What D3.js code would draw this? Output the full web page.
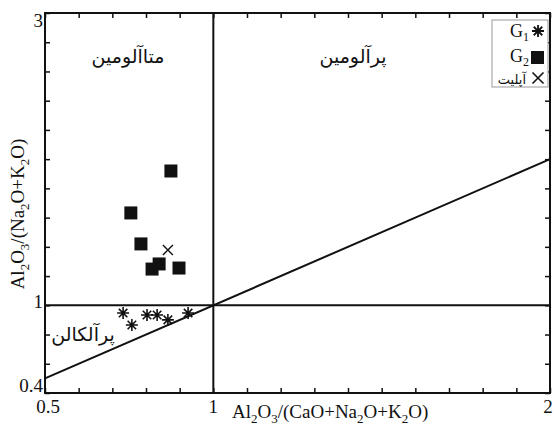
<!DOCTYPE html>
<html>
<head>
<meta charset="utf-8">
<script src="https://cdn.jsdelivr.net/npm/d3@7"></script>
<style>
  body { margin: 0; background: #fff; }
  svg text { fill: #111; }
  .serif { font-family: "Liberation Serif", "DejaVu Serif", serif; }
  .fa { font-family: "DejaVu Sans", sans-serif; }
</style>
</head>
<body>
<div id="chart"></div>
<script>
// G1 samples (asterisks)
const g1X = [0.732, 0.758, 0.803, 0.833, 0.865, 0.925];
const g1Y = [0.947, 0.865, 0.934, 0.934, 0.900, 0.947];
// G2 samples (squares)
const g2X = [0.874, 0.755, 0.785, 0.818, 0.839, 0.898];
const g2Y = [1.919, 1.632, 1.420, 1.248, 1.283, 1.255];
// aplite (cross)
const apX = [0.865];
const apY = [1.378];

const xTicks = [0.5, 1, 2];
const yTicks = [0.4, 1, 3];

const W = 554, H = 429;
const MARGIN = { top: 13, right: 4, bottom: 36, left: 45 };

const svg = d3.select('#chart').append('svg')
  .attr('width', W).attr('height', H);

const x = d3.scaleLinear().domain([0.5, 2]).range([MARGIN.left, W - MARGIN.right]);
const y = d3.scaleLinear().domain([0.4, 3]).range([H - MARGIN.bottom, MARGIN.top]);

const x0 = x.range()[0], x1 = x.range()[1];
const y0 = y.range()[0], y1 = y.range()[1];

// minor ticks, pointing inward
const xMinor = d3.range(0.5, 2.001, 0.1);
const yMinor = d3.range(0.4, 3.001, 0.2);

svg.append('g').attr('class', 'axis axis--bottom')
  .attr('transform', `translate(0,${y0})`)
  .call(d3.axisBottom(x).tickValues(xMinor).tickSize(-5).tickFormat(''))
  .call(ax => ax.select('.domain').remove());
svg.append('g').attr('class', 'axis axis--top')
  .attr('transform', `translate(0,${y1})`)
  .call(d3.axisTop(x).tickValues(xMinor).tickSize(-5).tickFormat(''))
  .call(ax => ax.select('.domain').remove());
svg.append('g').attr('class', 'axis axis--left')
  .attr('transform', `translate(${x0},0)`)
  .call(d3.axisLeft(y).tickValues(yMinor).tickSize(-5).tickFormat(''))
  .call(ax => ax.select('.domain').remove());
svg.append('g').attr('class', 'axis axis--right')
  .attr('transform', `translate(${x1},0)`)
  .call(d3.axisRight(y).tickValues(yMinor).tickSize(-5).tickFormat(''))
  .call(ax => ax.select('.domain').remove());
svg.selectAll('.axis line').attr('stroke', '#111').attr('stroke-width', 1.5);

// tick labels
svg.selectAll('.xlab').data(xTicks).join('text')
  .attr('class', 'serif')
  .attr('x', d => d === 2 ? x(d) - 2 : x(d) + (d === 0.5 ? 3 : 0))
  .attr('y', y0 + 20)
  .attr('text-anchor', 'middle')
  .style('font-size', '19px')
  .text(d => d);

svg.selectAll('.ylab').data(yTicks).join('text')
  .attr('class', 'serif')
  .attr('x', x0 - 2)
  .attr('y', d => y(d) + (d === 3 ? 14 : (d === 0.4 ? -1 : 3)))
  .attr('text-anchor', 'end')
  .style('font-size', '19px')
  .text(d => d);

// frame
svg.append('rect')
  .attr('x', x0).attr('y', y1)
  .attr('width', x1 - x0).attr('height', y0 - y1)
  .attr('fill', 'none').attr('stroke', '#111').attr('stroke-width', 2);

// boundary lines
const lineStyle = sel => sel.attr('stroke', '#111').attr('stroke-width', 2).attr('fill', 'none');
svg.append('line').attr('x1', x(1)).attr('x2', x(1)).attr('y1', y(0.4)).attr('y2', y(3)).call(lineStyle);
svg.append('line').attr('x1', x(0.5)).attr('x2', x(2)).attr('y1', y(1)).attr('y2', y(1)).call(lineStyle);
svg.append('line').attr('x1', x(0.5)).attr('x2', x(2)).attr('y1', y(0.5)).attr('y2', y(2)).call(lineStyle);

// field names
svg.append('text').attr('class', 'fa')
  .attr('x', 128).attr('y', 63).attr('text-anchor', 'middle')
  .style('font-size', '19px').text('متاآلومین');
svg.append('text').attr('class', 'fa')
  .attr('x', 353).attr('y', 63).attr('text-anchor', 'middle')
  .style('font-size', '19px').text('پرآلومین');
svg.append('text').attr('class', 'fa')
  .attr('x', 83).attr('y', 341).attr('text-anchor', 'middle')
  .style('font-size', '19px').text('پرآلکالن');

// symbols
const asterisk = (cx, cy, r) => {
  let p = '';
  for (let k = 0; k < 4; k++) {
    const a = k * Math.PI / 4;
    const dx = r * Math.sin(a), dy = r * Math.cos(a);
    p += `M${cx - dx},${cy - dy}L${cx + dx},${cy + dy}`;
  }
  return p;
};
const cross = (cx, cy, r) => `M${cx - r},${cy - r}L${cx + r},${cy + r}M${cx - r},${cy + r}L${cx + r},${cy - r}`;

const g1 = g1X.map((v, i) => ({ x: v, y: g1Y[i] }));
const g2 = g2X.map((v, i) => ({ x: v, y: g2Y[i] }));
const ap = apX.map((v, i) => ({ x: v, y: apY[i] }));

svg.selectAll('.g1').data(g1).join('path')
  .attr('class', 'g1')
  .attr('d', d => asterisk(x(d.x), y(d.y), 6))
  .attr('stroke', '#111').attr('stroke-width', 1.6);

svg.selectAll('.g2').data(g2).join('rect')
  .attr('class', 'g2')
  .attr('x', d => x(d.x) - 6.5).attr('y', d => y(d.y) - 6.5)
  .attr('width', 13).attr('height', 13)
  .attr('fill', '#111');

svg.selectAll('.ap').data(ap).join('path')
  .attr('class', 'ap')
  .attr('d', d => cross(x(d.x), y(d.y), 5))
  .attr('stroke', '#111').attr('stroke-width', 1.4);

// legend
const lg = svg.append('g').attr('class', 'legend');
lg.append('rect').attr('x', 492).attr('y', 20).attr('width', 56).attr('height', 67)
  .attr('fill', '#fff').attr('stroke', '#999').attr('stroke-width', 1);
const g1t = lg.append('text').attr('class', 'serif').attr('x', 529).attr('y', 37)
  .attr('text-anchor', 'end').style('font-size', '18px');
g1t.append('tspan').text('G');
g1t.append('tspan').attr('dy', 4).style('font-size', '12px').text('1');
lg.append('path').attr('d', asterisk(538, 31, 6)).attr('stroke', '#111').attr('stroke-width', 1.8);
const g2t = lg.append('text').attr('class', 'serif').attr('x', 529).attr('y', 62)
  .attr('text-anchor', 'end').style('font-size', '18px');
g2t.append('tspan').text('G');
g2t.append('tspan').attr('dy', 4).style('font-size', '12px').text('2');
lg.append('rect').attr('x', 531).attr('y', 51).attr('width', 13).attr('height', 13).attr('fill', '#111');
lg.append('text').attr('class', 'fa').attr('x', 526).attr('y', 84)
  .attr('text-anchor', 'start').attr('direction', 'rtl')
  .style('font-size', '13px').text('آپلیت');
lg.append('path').attr('d', cross(538, 78, 5.5)).attr('stroke', '#111').attr('stroke-width', 1.6);

// axis titles with subscripts
function chemLabel(sel, parts) {
  let shift = 0;
  parts.forEach(([t, sub]) => {
    sel.append('tspan').attr('dy', -shift).text(t);
    shift = 0;
    if (sub) {
      sel.append('tspan').attr('dy', 5).style('font-size', '13px').text(sub);
      shift = 5;
    }
  });
}
const xt = svg.append('text').attr('class', 'serif')
  .attr('x', 232).attr('y', 418).style('font-size', '19px');
chemLabel(xt, [['Al', '2'], ['O', '3'], ['/(CaO+Na', '2'], ['O+K', '2'], ['O)']]);

const yt = svg.append('text').attr('class', 'serif')
  .attr('transform', 'translate(24,214) rotate(-90)')
  .attr('text-anchor', 'middle').style('font-size', '19px');
chemLabel(yt, [['Al', '2'], ['O', '3'], ['/(Na', '2'], ['O+K', '2'], ['O)']]);
</script>
</body>
</html>
